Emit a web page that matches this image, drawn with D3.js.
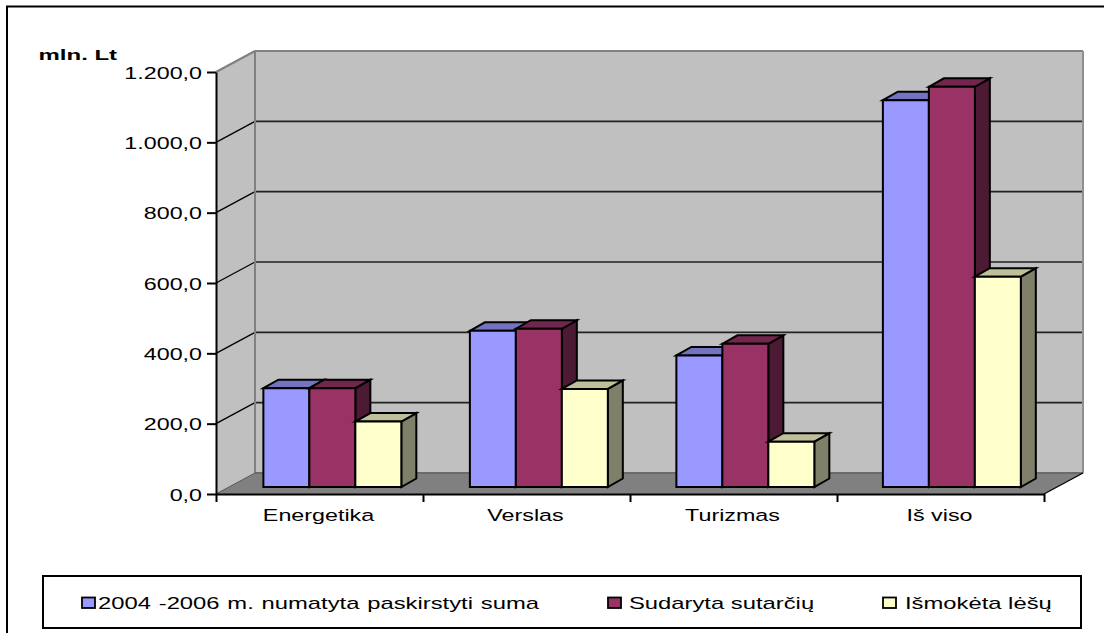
<!DOCTYPE html>
<html><head><meta charset="utf-8">
<script src="https://cdn.jsdelivr.net/npm/d3@7"></script>
<style>html,body{margin:0;padding:0;background:#fff}svg{display:block}text{font-family:"Liberation Sans",Arial,sans-serif;fill:#000}</style>
</head><body><svg id="c" width="1104" height="633"></svg>
<script>
const categories = ["Energetika","Verslas","Turizmas","Iš viso"];
const seriesNames = ["2004 -2006 m. numatyta paskirstyti suma","Sudaryta sutarčių","Išmokėta lėšų"];
const planned = [281,444,374,1100];
const contracted = [281,450,407,1138];
const paid = [186,279,129,598];
const tickValues = [0,200,400,600,800,1000,1200];
const tickLabels = ["0,0","200,0","400,0","600,0","800,0","1.000,0","1.200,0"];
const faceColors = ["#9999ff","#993366","#ffffcc"];
const topColors = ["#7373bf","#73264d","#bfbf99"];
const sideColors = ["#5c5c99","#4d1a33","#80806a"];

const svg = d3.select("#c");
const x0=216,x1=1044,yB=494,yT=72,dx=39,dy=-21;
const y = d3.scaleLinear().domain([0,1200]).range([yB,yT]);
const x = d3.scaleBand().domain(categories).range([x0,x1]).paddingInner(0.332).paddingOuter(0.166);
const barBand = d3.scaleBand().domain(categories).range([x0+0.6,x1-1.4]).paddingInner(0.332).paddingOuter(0.166);
const sub = d3.scaleBand().domain(d3.range(3)).range([0,barBand.bandwidth()]);
const poly=(pts,fill,stroke,sw)=>svg.append("polygon").attr("points",pts.map(p=>p.join(",")).join(" ")).attr("fill",fill).attr("stroke",stroke||"none").attr("stroke-width",sw||0).attr("stroke-linejoin","miter");
const line=(a,b,c,w)=>svg.append("line").attr("x1",a[0]).attr("y1",a[1]).attr("x2",b[0]).attr("y2",b[1]).attr("stroke",c).attr("stroke-width",w);
const hx=1.37;

// outer frame: only top and left edges are visible
svg.append("path").attr("d","M7,633V6.5H1104").attr("fill","none").attr("stroke","#000").attr("stroke-width",2);

// walls
poly([[x0+dx,yT+dy],[x1+dx,yT+dy],[x1+dx,yB+dy],[x0+dx,yB+dy]],"#c0c0c0");
poly([[x0,yT],[x0+dx,yT+dy],[x0+dx,yB+dy],[x0,yB]],"#c0c0c0");
poly([[x0,yB],[x0+dx,yB+dy],[x1+dx,yB+dy],[x1,yB]],"#808080");
// gridlines
tickValues.slice(1,-1).forEach(t=>{
  line([x0,y(t)],[x0+dx,y(t)+dy],"#000",1.3);
  line([x0+dx,y(t)+dy],[x1+dx,y(t)+dy],"#222",1.6);
});
line([x0,yT],[x0+dx,yT+dy],"#808080",2);
line([x0+dx,yT+dy],[x1+dx,yT+dy],"#808080",2);
line([x1+dx,yT+dy],[x1+dx,yB+dy],"#909090",2);
line([x0+dx,yT+dy],[x0+dx,yB+dy],"#808080",2);
line([x0+dx,yB+dy],[x1+dx,yB+dy],"#6a6a6a",2);
line([x1,yB],[x1+dx,yB+dy],"#000",1.3);
line([x0,yB],[x0+dx,yB+dy],"#555",1);

// bars
const gapX=12.5,gapY=-7,bx=15,by=-8.5;
const series=[planned,contracted,paid];
categories.forEach(c=>{
  const i=categories.indexOf(c);
  series.forEach((vals,s)=>{
    const v=vals[i];
    const l=barBand(c)+sub(s)+gapX, r=l+sub.bandwidth(), t=y(v)+gapY, b=yB+gapY;
    const st="#000",sw=2;
    poly([[r,t],[r+bx,t+by],[r+bx,b+by],[r,b]],sideColors[s],st,sw);
    poly([[l,t],[l+bx,t+by],[r+bx,t+by],[r,t]],topColors[s],st,sw);
    poly([[l,t],[r,t],[r,b],[l,b]],faceColors[s],st,sw);
  });
});

// axes
const gy=svg.append("g").attr("transform",`translate(${x0},0)`)
  .call(d3.axisLeft(y).tickValues(tickValues).tickFormat((d,i)=>tickLabels[i]).tickSize(9).tickSizeOuter(0));
gy.selectAll("text").attr("font-size",17).attr("x",0).attr("dy",null).attr("y",0)
  .attr("transform",`translate(-14,6) scale(${hx},1)`);
gy.selectAll("line,path").attr("stroke","#000").attr("stroke-width",2);

const edges=d3.scaleLinear().domain([0,categories.length]).range([x0,x1]);
const gx=svg.append("g").attr("transform",`translate(0,${yB})`)
  .call(d3.axisBottom(edges).tickValues(d3.range(categories.length+1)).tickFormat("").tickSize(8).tickSizeOuter(0));
gx.selectAll("line,path").attr("stroke","#000").attr("stroke-width",2);
svg.selectAll(".cat").data(categories).join("text").attr("class","cat")
  .attr("transform",c=>`translate(${x(c)+x.bandwidth()/2-1},521) scale(${hx},1)`).attr("text-anchor","middle")
  .attr("font-size",17).text(c=>c);

svg.append("text").attr("transform","translate(38.5,60) scale(1.6,1)").attr("font-size",15).attr("font-weight","bold").text("mln. Lt");

// legend
svg.append("rect").attr("x",43).attr("y",576).attr("width",1038).attr("height",52).attr("fill","#fff").attr("stroke","#000").attr("stroke-width",2);
const legendX=[82,608,883];
const legendTextOffset=[16,21,22];
const legendWordSpacing=[0.85,0,0];
const lg=svg.selectAll(".lg").data(seriesNames).join("g").attr("class","lg").attr("transform",(d,i)=>`translate(${legendX[i]},0)`);
lg.append("rect").attr("x",0).attr("y",597.5).attr("width",13).attr("height",10.5).attr("fill",(d,i)=>faceColors[i]).attr("stroke","#000").attr("stroke-width",1.8);
lg.append("text").attr("transform",(d,i)=>`translate(${legendTextOffset[i]},609) scale(1.4,1)`).attr("font-size",17).style("word-spacing",(d,i)=>legendWordSpacing[i]+"px").text(d=>d);
</script></body></html>
